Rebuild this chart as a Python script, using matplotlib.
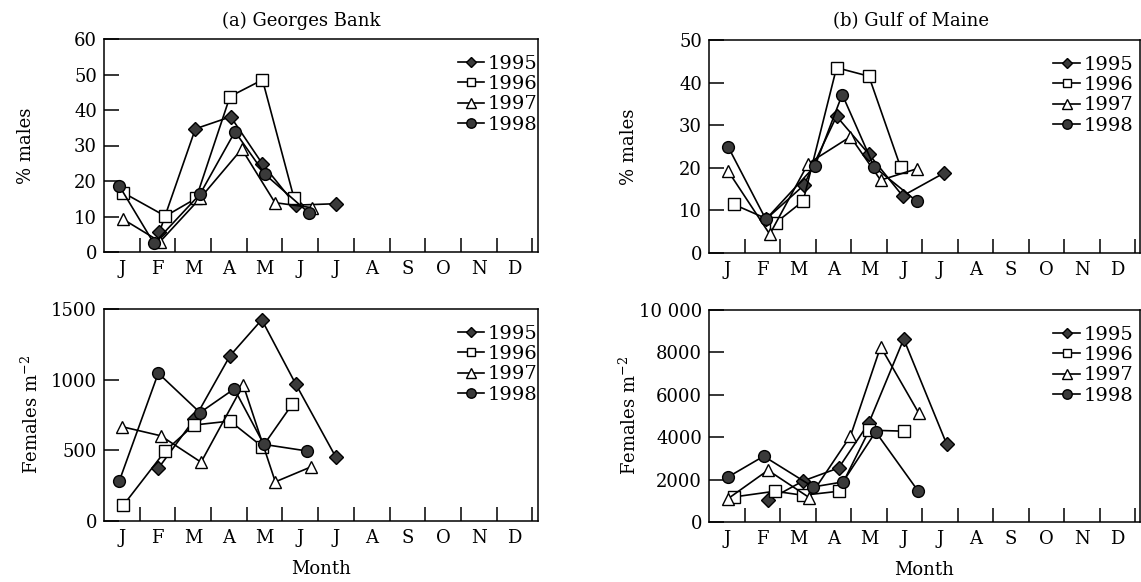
import matplotlib
matplotlib.use("Agg")
import matplotlib.pyplot as plt
from matplotlib.ticker import FixedLocator, FuncFormatter

plt.rcParams['font.family'] = ['DejaVu Serif']
plt.rcParams['mathtext.fontset'] = 'dejavuserif'

months = ['J', 'F', 'M', 'A', 'M', 'J', 'J', 'A', 'S', 'O', 'N', 'D']
years = ['1995', '1996', '1997', '1998']

# x positions are in months since 1 January (0 = start of Jan)
# (a) Georges Bank, % males
gb_males_x = {
    '1995': [1.55, 2.56, 3.55, 4.44, 5.37, 6.50],
    '1996': [0.54, 1.72, 2.58, 3.53, 4.44, 5.32],
    '1997': [0.54, 1.57, 2.69, 3.86, 4.79, 5.82],
    '1998': [0.43, 1.40, 2.69, 3.67, 4.51, 5.73],
}
gb_males_y = {
    '1995': [5.5, 34.7, 38.1, 24.8, 13.2, 13.6],
    '1996': [16.7, 10.1, 15.1, 43.8, 48.5, 15.3],
    '1997': [9.2, 2.9, 15.1, 29.0, 13.9, 12.5],
    '1998': [18.6, 2.4, 16.3, 33.9, 21.9, 11.1],
}
# (b) Gulf of Maine, % males
gm_males_x = {
    '1995': [1.60, 2.67, 3.59, 4.50, 5.45, 6.62],
    '1996': [0.70, 1.88, 2.65, 3.59, 4.50, 5.39],
    '1997': [0.54, 1.71, 2.79, 3.98, 4.83, 5.86],
    '1998': [0.54, 1.60, 2.98, 3.75, 4.65, 5.84],
}
gm_males_y = {
    '1995': [7.9, 15.9, 32.1, 23.2, 13.4, 18.8],
    '1996': [11.4, 7.1, 12.2, 43.5, 41.5, 20.2],
    '1997': [19.2, 4.4, 21.0, 27.3, 17.1, 19.8],
    '1998': [24.9, 7.9, 20.4, 37.2, 20.2, 12.2],
}
# (a) Georges Bank, females m-2
gb_fem_x = {
    '1995': [1.52, 2.53, 3.53, 4.42, 5.37, 6.50],
    '1996': [0.54, 1.72, 2.52, 3.53, 4.44, 5.28],
    '1997': [0.51, 1.59, 2.72, 3.90, 4.80, 5.80],
    '1998': [0.43, 1.52, 2.69, 3.65, 4.48, 5.70],
}
gb_fem_y = {
    '1995': [372, 720, 1169, 1424, 970, 450],
    '1996': [111, 497, 679, 707, 525, 828],
    '1997': [667, 603, 416, 963, 277, 383],
    '1998': [284, 1046, 767, 935, 542, 495],
}
# (b) Gulf of Maine, females m-2
gm_fem_x = {
    '1995': [1.66, 2.65, 3.65, 4.50, 5.48, 6.69],
    '1996': [0.70, 1.85, 2.65, 3.65, 4.51, 5.48],
    '1997': [0.54, 1.66, 2.82, 3.98, 4.83, 5.91],
    '1998': [0.54, 1.54, 2.93, 3.77, 4.69, 5.89],
}
gm_fem_y = {
    '1995': [1025, 1937, 2551, 4677, 8631, 3670],
    '1996': [1181, 1450, 1261, 1450, 4332, 4285],
    '1997': [1105, 2442, 1153, 4048, 8267, 5120],
    '1998': [2126, 3104, 1654, 1890, 4252, 1450],
}

styles = {
    '1995': dict(marker='D', markersize=7, markerfacecolor='#3a3a3a', markeredgecolor='black'),
    '1996': dict(marker='s', markersize=8, markerfacecolor='white', markeredgecolor='black'),
    '1997': dict(marker='^', markersize=9, markerfacecolor='white', markeredgecolor='black'),
    '1998': dict(marker='o', markersize=8.5, markerfacecolor='#3a3a3a', markeredgecolor='black'),
}

W, H = 1141, 582
fig = plt.figure(figsize=(W / 100, H / 100), dpi=100)

def px_axes(l, r, t, b):
    return fig.add_axes([l / W, 1 - b / H, (r - l) / W, (b - t) / H])

axes = {
    'gb_m': px_axes(104, 538, 39, 252),
    'gb_f': px_axes(104, 538, 309, 521),
    'gm_m': px_axes(709, 1140, 40, 253),
    'gm_f': px_axes(709, 1140, 310, 522),
}

def fmt_big(v, pos):
    v = int(round(v))
    if v >= 10000:
        return f"{v:,}".replace(",", " ")
    return str(v)

def setup(ax, ymax, ystep, xmax, ylabel, label_x_px, xlabel=None):
    ax.set_xlim(0, xmax)
    ax.set_ylim(0, ymax)
    ax.xaxis.set_major_locator(FixedLocator(range(1, 13)))
    ax.xaxis.set_minor_locator(FixedLocator([i + 0.5 for i in range(12)]))
    ax.xaxis.set_major_formatter(FuncFormatter(lambda v, p: ''))
    ax.xaxis.set_minor_formatter(FuncFormatter(lambda v, p: months[int(v)] if 0 <= int(v) < 12 else ''))
    ax.tick_params(axis='x', which='major', direction='in', length=10, width=1.1)
    ax.tick_params(axis='x', which='minor', length=0, pad=6, labelsize=13)
    ax.set_yticks([ystep * i for i in range(int(round(ymax / ystep)) + 1)])
    ax.yaxis.set_major_formatter(FuncFormatter(fmt_big))
    ax.tick_params(axis='y', which='major', direction='in', length=11, width=1.1, labelsize=13, pad=5)
    for s in ax.spines.values():
        s.set_linewidth(1.1)
    ax.set_ylabel(ylabel, fontsize=13)
    pos = ax.get_position()
    ax.yaxis.set_label_coords((label_x_px / W - pos.x0) / pos.width, 0.5)
    if xlabel:
        ax.set_xlabel(xlabel, fontsize=13, labelpad=9)

def plot_panel(ax, xs, ys, anchor_x):
    handles = []
    for yr in years:
        h, = ax.plot(xs[yr], ys[yr], color='black', linewidth=1.2, label=yr,
                     markeredgewidth=1.0, **styles[yr])
        handles.append(h)
    ax.legend(handles=handles, loc='upper right', bbox_to_anchor=(anchor_x, 0.99),
              frameon=False, fontsize=14, handlelength=1.35, handletextpad=0.2,
              labelspacing=0.12, borderpad=0.2, markerscale=0.8)

plot_panel(axes['gb_m'], gb_males_x, gb_males_y, 1.03)
plot_panel(axes['gm_m'], gm_males_x, gm_males_y, 1.016)
plot_panel(axes['gb_f'], gb_fem_x, gb_fem_y, 1.03)
plot_panel(axes['gm_f'], gm_fem_x, gm_fem_y, 1.016)

setup(axes['gb_m'], 60, 10, 12.16, '% males', 35)
setup(axes['gm_m'], 50, 10, 12.13, '% males', 638)
setup(axes['gb_f'], 1500, 500, 12.16, 'Females m$^{-2}$', 42, 'Month')
setup(axes['gm_f'], 10000, 2000, 12.13, 'Females m$^{-2}$', 640, 'Month')

fig.text(301 / W, 1 - 21 / H, '(a) Georges Bank', fontsize=13, ha='center', va='center')
fig.text(911 / W, 1 - 21 / H, '(b) Gulf of Maine', fontsize=13, ha='center', va='center')

fig.savefig('out.png', dpi=100)
